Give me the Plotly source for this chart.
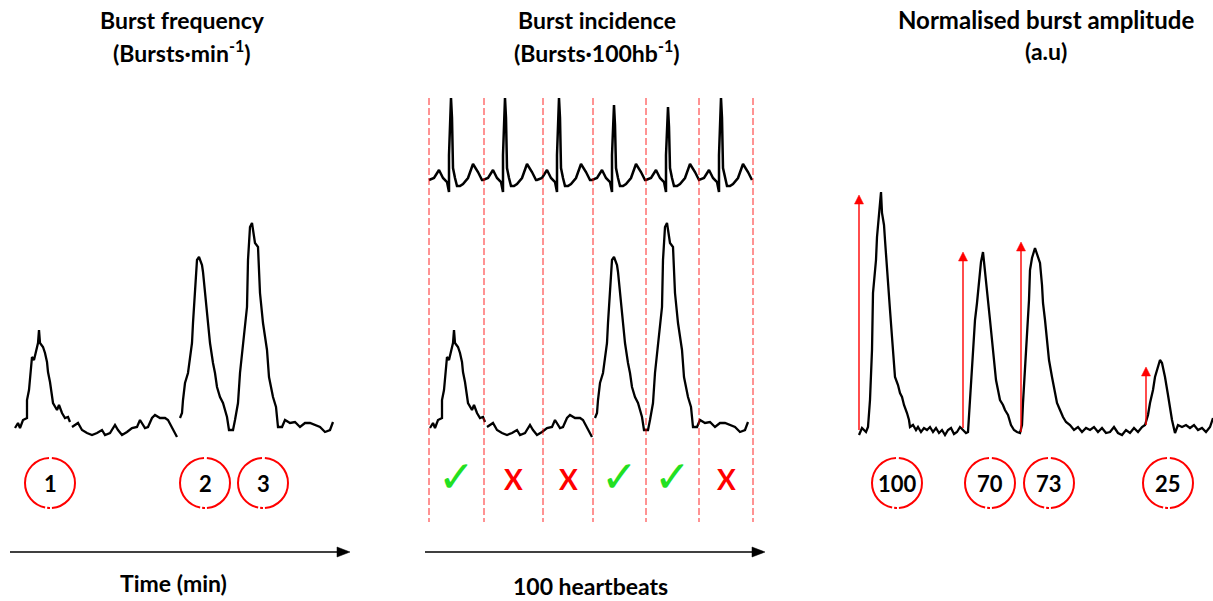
import plotly.graph_objects as go

# ---------------- data ----------------
# MSNA neurogram (same recording used in the left and middle panels)
msna_t = [0, 3, 5, 8, 12, 12, 14, 16, 17, 19, 21, 23, 24, 25, 28, 30, 32, 33, 35, 37, 38, 42, 44, 47, 50, 53, 55,
          None,
          57, 60, 63, 67, 72, 77, 82, 87, 90, 95, 100, 103, 107, 112, 117, 122, 125, 130, 133, 137, 140, 145,
          150, 153, 157, 160, 162,
          None,
          165, 167, 168, 170, 173, 177, 178, 180, 182, 184, 187, 188, 190, 192, 195, 198, 200, 202, 205, 208,
          212, 214, 218, 220, 223, 225, 228, 232, 233, 235, 237, 240, 243, 245, 248, 252, 254, 258, 261, 263,
          267, 270, 275, 280, 285, 290, 295, 300, 305, 310, 315, 318]
msna_amp = [2, 7, 2, 10, 12, 30, 40, 67, 73, 70, 80, 87, 100, 87, 83, 77, 68, 58, 48, 33, 27, 20, 25, 17, 12, 13, 8,
            None,
            3, 5, 7, 0, -3, -5, -3, 0, -5, -3, 5, 0, -5, -2, 2, 3, 10, 2, 3, 12, 15, 12,
            12, 10, 3, -3, -7,
            None,
            12, 17, 30, 47, 57, 87, 107, 143, 170, 173, 165, 158, 137, 113, 87, 67, 57, 43, 33, 27,
            13, 0, 0, 10, 27, 57, 87, 123, 170, 203, 207, 187, 183, 137, 107, 80, 53, 33, 23, 3,
            3, 10, 7, 8, 3, 7, 7, 5, 3, -2, 0, 8]

# MSNA neurogram for the amplitude panel
amp_t = [1, 4, 8, 10, 12, 14, 15, 18, 19, 21, 22, 23, 24, 26, 27, 29, 30, 32, 34, 36, 37, 40, 42, 44, 46, 49, 51, 52,
         55, 58, 60, 63, 66, 69, 72, 75, 78, 81, 84, 87, 90, 93, 96, 99, 102, 105, 108, 110,
         112, 114, 115, 117, 119, 121, 123, 125, 127, 129, 131, 132, 134, 136, 138, 140, 142, 145, 147, 150, 153,
         156, 159, 162, 164, 165, 167, 169, 171, 172, 174, 177, 179, 182, 184, 185, 187, 189, 191, 194, 197, 199,
         202, 205, 208, 212, 216, 220, 224, 228, 232, 236, 240, 244, 248, 252, 256, 260, 264, 268, 272, 276, 280,
         284, 287, 290, 292, 295, 297, 300, 302, 304, 307, 310, 312, 314, 317, 320, 324, 328, 332, 336, 340, 344,
         348, 352, 355]
amp_v = [-5, 2, -2, 3, 30, 80, 137, 170, 193, 215, 225, 238, 217, 205, 190, 165, 150, 120, 93, 70, 53, 45, 37, 33,
         25, 17, 10, 3,
         5, 0, 3, -2, 2, 0, 3, -2, 2, -3, 0, -5, 0, 2, -4, -2, 3, 0, -3, -2,
         30, 60, 83, 110, 127, 150, 168, 178, 160, 143, 125, 110, 90, 67, 50, 40, 30, 25, 20, 15, 5,
         0, -2, -3, 5, 27, 60, 93, 130, 160, 172, 182, 175, 167, 145, 127, 110, 87, 70, 53, 37, 27,
         20, 13, 8, 5, 0, 3, -2, 2, 0, 3, -2, 2, -3, -2, 3, -3, -5, 0, -3, 2, -2,
         3, 5, 15, 27, 40, 53, 65, 70, 67, 53, 35, 20, 10, -3, 5, 3, 5, 2, 5, 0, 2,
         -2, 3, 12]

# amplitude arrows (time, baseline, peak) and normalised values
arrow_t = [1, 105, 163, 288]
arrow_base = [0, 2, -2, 5]
arrow_tip = [235, 178, 188, 63]
norm_amplitude = [100, 70, 73, 25]

# burst count labels (left panel)
burst_number = [1, 2, 3]

# ECG: one beat template around the R wave, plus R-wave times / heights
ecg_dx = [-22, -17, -12, -8, -4, -2, -2, 0, 1, 2, 4, 6, 9, 12, 17, 22, 27, 31]
ecg_dv = [0, 2, 10, 2, -2, -12, 25, None, -20, 12, 2, -6, -6, -4, 2, 16, 8, 0]
r_time = [21, 75, 129, 184, 238, 291]
r_height = [82, 82, 82, 75, 73, 82]

# heartbeat boundaries and burst presence per heartbeat
beat_edges = [-1, 54, 113, 163, 216, 269, 323]
burst_present = [True, False, False, True, True, False]

# ---------------- helpers ----------------
W, H = 1213, 601


def px(x):
    return x / W


def py(y):
    return 1 - y / H


ecg_t, ecg_v = [], []
for rt, rh in zip(r_time, r_height):
    for dx, dv in zip(ecg_dx, ecg_dv):
        ecg_t.append(rt + dx)
        if dv is None:
            ecg_v.append(rh)
        elif dx == 1:
            ecg_v.append(rh + dv)
        else:
            ecg_v.append(dv)

fig = go.Figure()
line = dict(color="black", width=2.3)
fig.add_trace(go.Scatter(x=msna_t, y=msna_amp, mode="lines", line=line, xaxis="x", yaxis="y",
                         connectgaps=False, hoverinfo="skip"))
fig.add_trace(go.Scatter(x=msna_t, y=msna_amp, mode="lines", line=line, xaxis="x2", yaxis="y",
                         connectgaps=False, hoverinfo="skip"))
fig.add_trace(go.Scatter(x=ecg_t, y=ecg_v, mode="lines", line=dict(color="black", width=2.5),
                         xaxis="x2", yaxis="y2", hoverinfo="skip"))
fig.add_trace(go.Scatter(x=amp_t, y=amp_v, mode="lines", line=line, xaxis="x3", yaxis="y",
                         hoverinfo="skip"))

shapes = []
annotations = []
FONT = "Lato, 'Open Sans', sans-serif"

# heartbeat boundaries
for e in beat_edges:
    shapes.append(dict(type="line", xref="x2", yref="paper", x0=e, x1=e, y0=py(98), y1=py(522),
                       line=dict(color="rgba(255,0,0,0.85)", width=1, dash="7px,3px")))

# tick / cross marks
for i, present in enumerate(burst_present):
    mid = (beat_edges[i] + beat_edges[i + 1]) / 2
    if present:
        annotations.append(dict(x=mid, y=py(476), xref="x2", yref="paper", text="✓", showarrow=False,
                                font=dict(family="DejaVu Sans", size=44, color="#22e022"),
                                xanchor="center", yanchor="middle"))
    else:
        annotations.append(dict(x=mid, y=py(479), xref="x2", yref="paper", text="<b>X</b>", showarrow=False,
                                font=dict(family=FONT, size=28, color="#ff0000"),
                                xanchor="center", yanchor="middle"))

# dashed circles with labels
circ_dash = "37px,2px,3px,2px,72px,3px,38px"
r = 25
left_circles = [50, 205, 263]
right_circles = [897, 990, 1049, 1168]
for cx, lab in list(zip(left_circles, burst_number)) + list(zip(right_circles, norm_amplitude)):
    cy = 483
    shapes.append(dict(type="circle", xref="paper", yref="paper",
                       x0=px(cx - r), x1=px(cx + r), y0=py(cy + r), y1=py(cy - r),
                       line=dict(color="#ff0000", width=2, dash=circ_dash)))
    annotations.append(dict(x=px(cx), y=py(cy + 1), xref="paper", yref="paper", text=f"<b>{lab}</b>",
                            showarrow=False, font=dict(family=FONT, size=22, color="black"),
                            xanchor="center", yanchor="middle"))

# amplitude arrows (red), drawn in the amplitude panel's data units
for t, b, tip in zip(arrow_t, arrow_base, arrow_tip):
    shapes.append(dict(type="line", xref="x3", yref="y", x0=t, x1=t, y0=b, y1=tip - 6,
                       line=dict(color="#ff0000", width=1.4)))
    shapes.append(dict(type="path", xref="x3", yref="y",
                       path=f"M {t},{tip} L {t - 4.5},{tip - 9} L {t + 4.5},{tip - 9} Z",
                       fillcolor="#ff0000", line=dict(color="#ff0000", width=0.5)))

# bottom axis arrows (black)
for x0, x1, yy in [(10, 350, 552), (425, 765, 552)]:
    shapes.append(dict(type="line", xref="paper", yref="paper", x0=px(x0), x1=px(x1 - 8), y0=py(yy), y1=py(yy),
                       line=dict(color="black", width=1.3)))
    shapes.append(dict(type="path", xref="paper", yref="paper",
                       path=f"M {px(x1)},{py(yy)} L {px(x1 - 13)},{py(yy - 5)} L {px(x1 - 13)},{py(yy + 5)} Z",
                       fillcolor="black", line=dict(color="black", width=0.5)))

# titles
texts = [
    (182, 20, "Burst frequency", 23), (182, 51, "(Bursts·min<sup>-1</sup>)", 23),
    (597, 20, "Burst incidence", 23), (597, 51, "(Bursts·100hb<sup>-1</sup>)", 23),
    (1046, 20, "Normalised burst amplitude", 24), (1046, 51, "(a.u)", 23),
    (173, 583, "Time (min)", 23), (590, 586, "100 heartbeats", 23),
]
for x, y, t, s in texts:
    annotations.append(dict(x=px(x), y=py(y), xref="paper", yref="paper", text=f"<b>{t}</b>",
                            showarrow=False, font=dict(family=FONT, size=s, color="black"),
                            xanchor="center", yanchor="middle"))

hidden = dict(visible=False, fixedrange=True, domain=[0, 1])
fig.update_layout(
    width=W, height=H,
    margin=dict(l=0, r=0, t=0, b=0),
    paper_bgcolor="white", plot_bgcolor="white",
    showlegend=False,
    xaxis=dict(range=[-15, 1198], **hidden),
    xaxis2=dict(range=[-430, 783], overlaying="x", **hidden),
    xaxis3=dict(range=[-858, 355], overlaying="x", **hidden),
    yaxis=dict(range=[-171, 430], **hidden),
    yaxis2=dict(range=[-421, 180], overlaying="y", **hidden),
    shapes=shapes,
    annotations=annotations,
)

fig.write_html("out.html", config={"displayModeBar": False})
